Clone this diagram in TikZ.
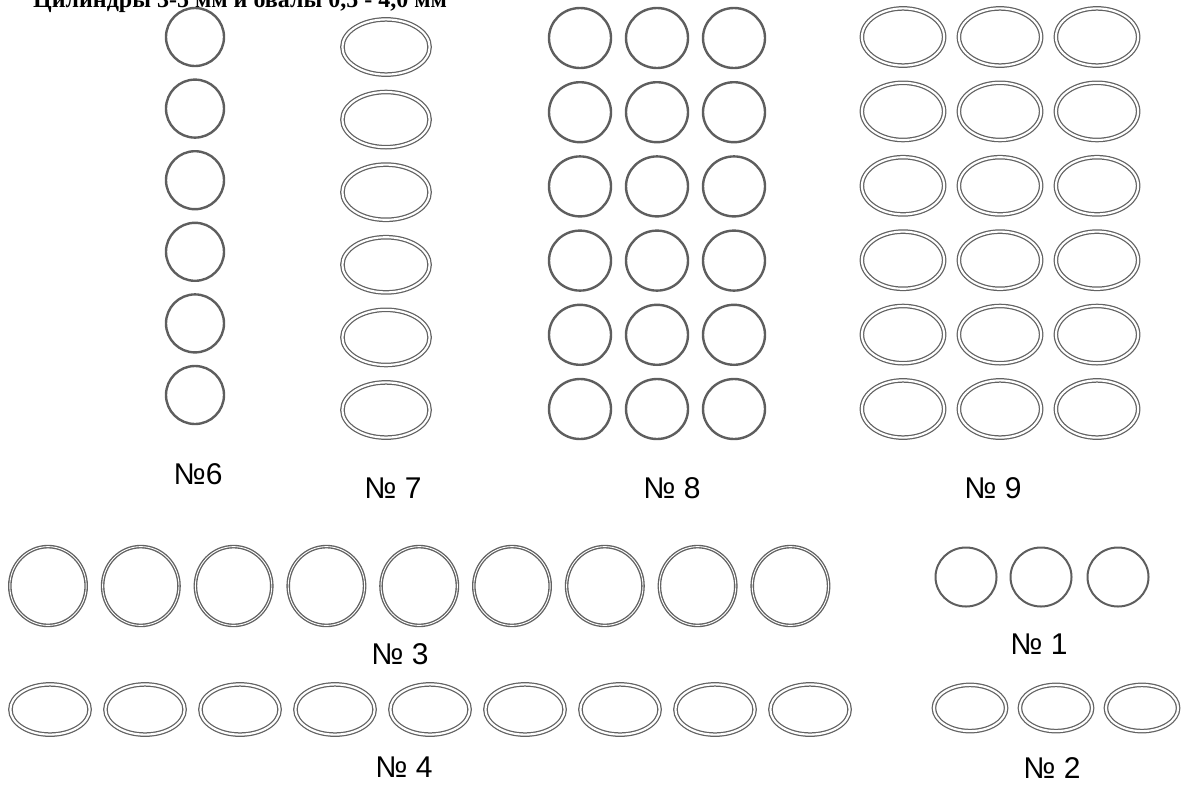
\documentclass[tikz,border=0pt]{standalone}
\usepackage{fontspec}
\setmainfont{Liberation Sans}
\newfontfamily\titlefont{Liberation Serif}
\definecolor{ringgray}{HTML}{5E5E5E}
\definecolor{dgray}{HTML}{626262}
\begin{document}
\begin{tikzpicture}[x=1pt,y=-1pt,
  ring/.style={draw=ringgray,line width=2.4pt},
  thinring/.style={draw=ringgray,line width=2pt},
  dring/.style={draw=dgray,line width=1.25pt,double=white,double distance=2.1pt},
  tring/.style={draw=dgray,line width=1.35pt,double=white,double distance=0.9pt},
  lbl/.style={font=\fontsize{30}{30}\selectfont,inner sep=0pt,anchor=center},
  ttl/.style={font=\titlefont\bfseries\fontsize{24}{24}\selectfont,inner sep=0pt,anchor=base west}]
\useasboundingbox (0,0) rectangle (1182,785);
% title (cut at the top edge)
\node[ttl] (title) at (33,7.5) {Цилиндры 3-5 мм и овалы 0,5 - 4,0 мм};
% No6
\foreach \k in {0,...,5}
  \draw[ring] (195,{37+\k*71.6}) ellipse[x radius=29pt,y radius=29pt];
% No7
\foreach \k in {0,...,5}
  \draw[dring] (386,{47+\k*72.6}) ellipse[x radius=43.6pt,y radius=27.6pt];
% No8
\foreach \c in {580,657,734}
  \foreach \k in {0,...,5}
    \draw[ring] (\c,{38+\k*74.2}) ellipse[x radius=31pt,y radius=30pt];
% No9
\foreach \c in {903,1000,1097}
  \foreach \k in {0,...,5}
    \draw[dring] (\c,{37+\k*74.4}) ellipse[x radius=41.1pt,y radius=28.6pt];
% No3
\foreach \k in {0,...,8}
  \draw[tring] ({48+\k*92.8},586) ellipse[x radius=38.2pt,y radius=39.4pt];
% No4
\foreach \k in {0,...,8}
  \draw[dring] ({50+\k*95},709.5) ellipse[x radius=39.6pt,y radius=25.1pt];
% No1
\foreach \c in {966,1041,1118}
  \draw[thinring] (\c,577) ellipse[x radius=30.5pt,y radius=29.5pt];
% No2
\foreach \c in {970,1056,1142}
  \draw[dring] (\c,708) ellipse[x radius=36.1pt,y radius=23.1pt];
% labels
\node[lbl] (n6) at (198,474) {№6};
\node[lbl] (n7) at (393,488) {№ 7};
\node[lbl] (n8) at (672,488) {№ 8};
\node[lbl] (n9) at (993,488) {№ 9};
\node[lbl] (n3) at (400,654) {№ 3};
\node[lbl] (n1) at (1039,644) {№ 1};
\node[lbl] (n4) at (404,767) {№ 4};
\node[lbl] (n2) at (1052,768) {№ 2};
\end{tikzpicture}
\end{document}
